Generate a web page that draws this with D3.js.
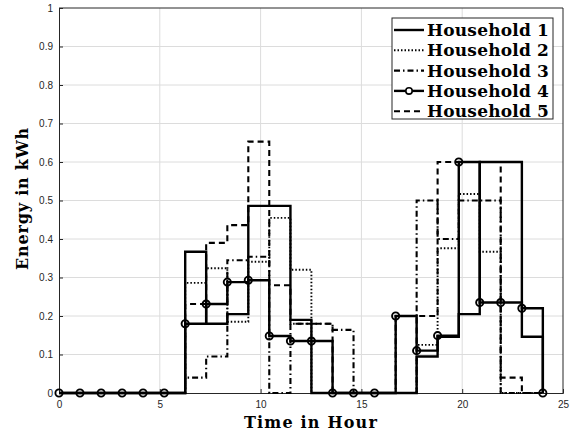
<!DOCTYPE html>
<html>
<head>
<meta charset="utf-8">
<script src="https://cdn.jsdelivr.net/npm/d3@7"></script>
<style>
  body { margin: 0; background: #fff; }
  svg { display: block; }
</style>
</head>
<body>
<svg id="chart"></svg>
<script>
// sample times (hours) and energy per household (kWh)
const hours = [0, 1.04, 2.09, 3.13, 4.17, 5.22, 6.26, 7.30, 8.35, 9.39, 10.43, 11.48,
               12.52, 13.57, 14.61, 15.65, 16.70, 17.74, 18.78, 19.83, 20.87, 21.91, 22.96, 24];
const house1 = [0, 0, 0, 0, 0, 0, 0.367, 0.18, 0.205, 0.486, 0.486, 0.19, 0, 0, 0, 0, 0, 0.095, 0.146, 0.205, 0.6, 0.6, 0.146, 0];
const house2 = [0, 0, 0, 0, 0, 0, 0.286, 0.324, 0.185, 0.341, 0.455, 0.32, 0, 0, 0, 0, 0, 0.125, 0.376, 0.517, 0.367, 0, 0, 0];
const house3 = [0, 0, 0, 0, 0, 0, 0.04, 0.095, 0.345, 0.354, 0, 0.18, 0.18, 0.164, 0, 0, 0.2, 0.5, 0.4, 0.5, 0.5, 0, 0, 0];
const house4 = [0, 0, 0, 0, 0, 0, 0.18, 0.231, 0.288, 0.293, 0.148, 0.135, 0.135, 0, 0, 0, 0.2, 0.11, 0.149, 0.6, 0.235, 0.235, 0.22, 0];
const house5 = [0, 0, 0, 0, 0, 0, 0.231, 0.39, 0.436, 0.653, 0.28, 0.18, 0.18, 0, 0, 0, 0, 0.2, 0.6, 0.6, 0.6, 0.04, 0, 0];

const seriesNames = ['Household 1', 'Household 2', 'Household 3', 'Household 4', 'Household 5'];
const xTicks = [0, 5, 10, 15, 20, 25];
const yTicks = [0, 0.1, 0.2, 0.3, 0.4, 0.5, 0.6, 0.7, 0.8, 0.9, 1];

let width = 574;
let height = 432;
let margin = { left: 59, right: 11, top: 8, bottom: 39 };

let svg = d3.select('#chart')
    .attr('width', width)
    .attr('height', height);

let xScale = d3.scaleLinear()
    .domain([0, 25])
    .range([margin.left, width - margin.right]);

let yScale = d3.scaleLinear()
    .domain([0, 1])
    .range([height - margin.bottom, margin.top]);

// grid
svg.append('g')
    .selectAll('line')
    .data(xTicks.slice(1, -1))
    .enter()
    .append('line')
    .attr('x1', d => xScale(d)).attr('x2', d => xScale(d))
    .attr('y1', yScale(0)).attr('y2', yScale(1))
    .attr('stroke', '#dcdcdc').attr('stroke-width', 1);

svg.append('g')
    .selectAll('line')
    .data(yTicks.slice(1, -1))
    .enter()
    .append('line')
    .attr('x1', xScale(0)).attr('x2', xScale(25))
    .attr('y1', d => yScale(d)).attr('y2', d => yScale(d))
    .attr('stroke', '#dcdcdc').attr('stroke-width', 1);

// axes
let xAxis = d3.axisBottom(xScale).tickValues(xTicks).tickSize(-4).tickPadding(8).tickFormat(d3.format('d'));
let yAxis = d3.axisLeft(yScale).tickValues(yTicks).tickSize(-4).tickPadding(6).tickFormat(d => d === 0 || d === 1 ? d : d.toFixed(1));

svg.append('g')
    .attr('transform', 'translate(0,' + yScale(0) + ')')
    .call(xAxis)
    .call(g => g.select('.domain').attr('stroke', '#262626'));

svg.append('g')
    .attr('transform', 'translate(' + xScale(0) + ',0)')
    .call(yAxis)
    .call(g => g.select('.domain').attr('stroke', '#262626'));

svg.selectAll('.tick text')
    .attr('font-family', 'Liberation Sans, Arial, sans-serif')
    .attr('font-size', 10)
    .attr('fill', '#262626');
svg.selectAll('.tick line').attr('stroke', '#262626');

// box top & right
svg.append('path')
    .attr('d', 'M' + xScale(0) + ',' + yScale(1) + 'H' + xScale(25) + 'V' + yScale(0))
    .attr('fill', 'none')
    .attr('stroke', '#262626');

// step lines
const styles = [
    { dash: null, w: 2.4 },
    { dash: '1.5,2', w: 1.9 },
    { dash: '6,3,1.5,3', w: 2.1 },
    { dash: null, w: 2.4 },
    { dash: '6,4', w: 2.1 }
];
const allSeries = [house1, house2, house3, house4, house5];

let line = d3.line()
    .x(d => xScale(d[0]))
    .y(d => yScale(d[1]))
    .curve(d3.curveStepAfter);

allSeries.forEach((vals, i) => {
    let pts = hours.map((h, j) => [h, vals[j]]);
    svg.append('path')
        .datum(pts)
        .attr('d', line)
        .attr('fill', 'none')
        .attr('stroke', '#000')
        .attr('stroke-width', styles[i].w)
        .attr('stroke-dasharray', styles[i].dash);
    if (i === 3) {
        svg.append('g')
            .selectAll('circle')
            .data(pts)
            .enter()
            .append('circle')
            .attr('cx', d => xScale(d[0]))
            .attr('cy', d => yScale(d[1]))
            .attr('r', 3.6)
            .attr('fill', 'none')
            .attr('stroke', '#000')
            .attr('stroke-width', 1.9);
    }
});

// axis labels
svg.append('text')
    .attr('x', 311)
    .attr('y', 428)
    .attr('text-anchor', 'middle')
    .attr('font-family', 'DejaVu Serif, serif')
    .attr('font-weight', 'bold')
    .attr('font-size', 16)
    .attr('letter-spacing', 1.2)
    .text('Time in Hour');

svg.append('text')
    .attr('transform', 'translate(28,' + (yScale(0.5) - 2) + ') rotate(-90)')
    .attr('text-anchor', 'middle')
    .attr('font-family', 'DejaVu Serif, serif')
    .attr('font-weight', 'bold')
    .attr('font-size', 16)
    .attr('letter-spacing', 0.8)
    .text('Energy in kWh');

// legend
let legend = svg.append('g').attr('transform', 'translate(392,18)');
legend.append('rect')
    .attr('width', 161).attr('height', 101)
    .attr('fill', '#fff').attr('stroke', '#262626').attr('stroke-width', 1);

seriesNames.forEach((name, i) => {
    let y = 12 + i * 20.3;
    legend.append('line')
        .attr('x1', 2).attr('x2', 32)
        .attr('y1', y).attr('y2', y)
        .attr('stroke', '#000')
        .attr('stroke-width', styles[i].w)
        .attr('stroke-dasharray', styles[i].dash);
    if (i === 3) {
        legend.append('circle')
            .attr('cx', 17).attr('cy', y).attr('r', 3.2)
            .attr('fill', '#fff').attr('stroke', '#000').attr('stroke-width', 1.6);
    }
    legend.append('text')
        .attr('x', 35).attr('y', y + 6)
        .attr('font-family', 'DejaVu Serif, serif')
        .attr('font-weight', 'bold')
        .attr('font-size', 17)
        .attr('letter-spacing', 0.2)
        .text(name);
});
</script>
</body>
</html>
